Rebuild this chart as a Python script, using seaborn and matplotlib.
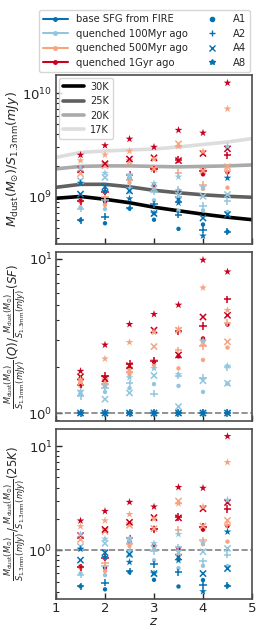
import numpy as np
import pandas as pd
import matplotlib
matplotlib.use('Agg')
import matplotlib.pyplot as plt
from matplotlib.lines import Line2D
from matplotlib.ticker import NullFormatter
import seaborn as sns

# fixed-temperature curves (top panel), read at z = 1 ... 5
z_grid = [1.0, 1.5, 2.0, 2.5, 3.0, 3.5, 4.0, 4.5, 5.0]
t30 = [9.67e8, 1.007e9, 9.46e8, 8.76e8, 7.93e8, 7.33e8, 6.79e8, 6.35e8, 6.01e8]
t25 = [1.234e9, 1.319e9, 1.319e9, 1.248e9, 1.155e9, 1.093e9, 1.045e9, 1.011e9, 0.989e9]
t20 = [1.86e9, 1.965e9, 1.987e9, 1.987e9, 1.965e9, 1.944e9, 1.965e9, 1.987e9, 2.03e9]
t17 = [2.40e9, 2.68e9, 2.77e9, 2.83e9, 2.89e9, 3.03e9, 3.20e9, 3.38e9, 3.65e9]
temps = ['30K', '25K', '20K', '17K']
temp_colors = ['black', '#606060', '#aaaaaa', '#dddddd']

# simulation snapshots
z_pts = [1.5, 2.0, 2.5, 3.0, 3.5, 4.0, 4.5]
runs = ['A1', 'A2', 'A4', 'A8']
run_markers = {'A1': 'o', 'A2': '+', 'A4': 'x', 'A8': '*'}
models = ['base SFG from FIRE', 'quenched 100Myr ago', 'quenched 500Myr ago', 'quenched 1Gyr ago']
model_colors = ['#0571b0', '#92c5de', '#f4a582', '#ca0020']

# base SFG: M_dust / S_1.3mm
base = {
    'A1': [5.94e8, 5.55e8, 7.7e8, 6.0e8, 4.9e8, 5.4e8, 4.6e8],
    'A2': [5.94e8, 6.4e8, 7.8e8, 8.45e8, 6.7e8, 4.8e8, 4.6e8],
    'A4': [1.06e9, 1.25e9, 1.14e9, 6.9e8, 9.4e8, 6.24e8, 6.74e8],
    'A8': [1.355e9, 1.13e9, 9.6e8, 6.9e8, 8.75e8, 4.2e8, 1.52e9],
}
# quenched / base
ratio_100 = {
    'A1': [1.33, 1.37, 1.45, 1.54, 1.50, 1.37, 1.55],
    'A2': [1.29, 1.45, 1.56, 1.33, 1.75, 1.70, 1.98],
    'A4': [1.35, 1.23, 1.35, 1.75, 1.10, 1.62, 1.56],
    'A8': [1.38, 1.50, 1.70, 1.95, 1.78, 2.95, 2.02],
}
ratio_500 = {
    'A1': [1.50, 1.50, 1.78, 2.05, 1.95, 2.21, 2.66],
    'A2': [1.52, 1.55, 1.85, 2.20, 2.56, 2.72, 3.85],
    'A4': [1.58, 1.60, 1.90, 2.70, 3.45, 2.85, 2.90],
    'A8': [1.65, 2.25, 2.88, 3.35, 3.51, 6.51, 4.65],
}
ratio_1g = {
    'A1': [1.55, 1.62, 1.95, 2.15, 2.33, 3.05, 3.75],
    'A2': [1.53, 1.75, 2.08, 2.18, 3.40, 3.67, 5.47],
    'A4': [1.72, 1.67, 2.03, 3.45, 2.38, 4.20, 4.31],
    'A8': [1.87, 2.77, 3.77, 4.38, 5.03, 9.85, 8.27],
}

# build tables
rows = []
t25_at_pts = dict(zip(z_grid, t25))
for m, rat in zip(models, [None, ratio_100, ratio_500, ratio_1g]):
    for r in runs:
        for i, z in enumerate(z_pts):
            q = 1.0 if rat is None else rat[r][i]
            top = base[r][i] * q
            rows.append(dict(z=z, model=m, run=r, top=top, sf=q, k25=top / t25_at_pts[z]))
df = pd.DataFrame(rows)

lines = pd.DataFrame({'z': z_grid * 4,
                      'value': t30 + t25 + t20 + t17,
                      'T': sum([[t] * len(z_grid) for t in temps], [])})

sns.set_style('ticks')
plt.rcParams.update({
    'axes.edgecolor': '0.3',
    'axes.linewidth': 1.2,
    'xtick.direction': 'in',
    'ytick.direction': 'in',
    'xtick.labelsize': 9.5,
    'ytick.labelsize': 9.5,
    'xtick.major.pad': 2.5,
    'ytick.major.pad': 2.5,
    'font.family': ['DejaVu Sans'],
})

fig = plt.figure(figsize=(2.8, 6.3), dpi=100)
ax1 = fig.add_axes([0.2, 0.6127, 0.7, 0.2683])
ax2 = fig.add_axes([0.2, 0.3317, 0.7, 0.2683])
ax3 = fig.add_axes([0.2, 0.0492, 0.7, 0.2698])

# temperature curves
sns.lineplot(data=lines, x='z', y='value', hue='T', hue_order=temps,
             palette=temp_colors, linewidth=2.6, ax=ax1, legend=False)

palette = dict(zip(models, model_colors))
sizes = {'A1': 10, 'A2': 26, 'A4': 20, 'A8': 34}


def draw_points(ax, col):
    for r in runs:
        sub = df[df['run'] == r]
        kws = dict(edgecolor='none') if run_markers[r] in ('o', '*') else dict(linewidth=1.1)
        sns.scatterplot(data=sub, x='z', y=col, hue='model', hue_order=models,
                        palette=palette, marker=run_markers[r], s=sizes[r],
                        ax=ax, legend=False, zorder=3, **kws)


draw_points(ax1, 'top')
draw_points(ax2, 'sf')
draw_points(ax3, 'k25')

ax2.axhline(1, color='gray', ls='--', lw=1.2, zorder=1)
ax3.axhline(1, color='gray', ls='--', lw=1.2, zorder=1)

for ax in (ax1, ax2, ax3):
    ax.set_yscale('log')
    ax.set_xlim(1, 5)
    ax.set_xticks([1, 2, 3, 4, 5])
    ax.yaxis.set_minor_formatter(NullFormatter())
    ax.tick_params(which='major', length=4, width=1)
    ax.tick_params(which='minor', length=2.5, width=0.8)
    ax.set_xlabel('')

ax1.set_ylim(3.5e8, 1.5e10)
ax2.set_ylim(0.887, 11.1)
ax3.set_ylim(0.34, 14.6)
ax1.tick_params(labelbottom=False)
ax2.tick_params(labelbottom=False)

ax1.set_ylabel(r'$M_{\rm dust}(M_{\odot})/S_{1.3{\rm mm}}(mJy)$', fontsize=9, labelpad=1)
ax2.set_ylabel(r'$\frac{M_{\rm dust}(M_{\odot})}{S_{1.3{\rm mm}}(mJy)}(Q)/\frac{M_{\rm dust}(M_{\odot})}{S_{1.3{\rm mm}}(mJy)}(SF)$',
               fontsize=8.5, labelpad=0)
ax3.set_ylabel(r'$\frac{M_{\rm dust}(M_{\odot})}{S_{1.3{\rm mm}}(mJy)}/\frac{M_{\rm dust}(M_{\odot})}{S_{1.3{\rm mm}}(mJy)}(25K)$',
               fontsize=8.5, labelpad=0)
ax3.set_xlabel(r'$z$', fontsize=9.5, labelpad=0)

# legends
t_handles = [Line2D([], [], color=c, lw=2.6) for c in temp_colors]
ax1.legend(t_handles, temps, loc='upper left', fontsize=7, handlelength=2.2,
           borderaxespad=0.3, labelspacing=0.45, handletextpad=0.6)

m_handles = [Line2D([], [], color=c, marker='.', ms=5, lw=1.5) for c in model_colors]
r_handles = [Line2D([], [], color=model_colors[0], marker=run_markers[r], ls='none',
                    ms=4 if r != 'A1' else 3, mew=1) for r in runs]
fig.legend(m_handles + r_handles, models + runs, ncol=2, loc='upper center',
           bbox_to_anchor=(0.515, 0.992), fontsize=7.2, handlelength=2.5,
           columnspacing=1.2, labelspacing=0.45, borderpad=0.4)

fig.savefig('out.png', dpi=100)
